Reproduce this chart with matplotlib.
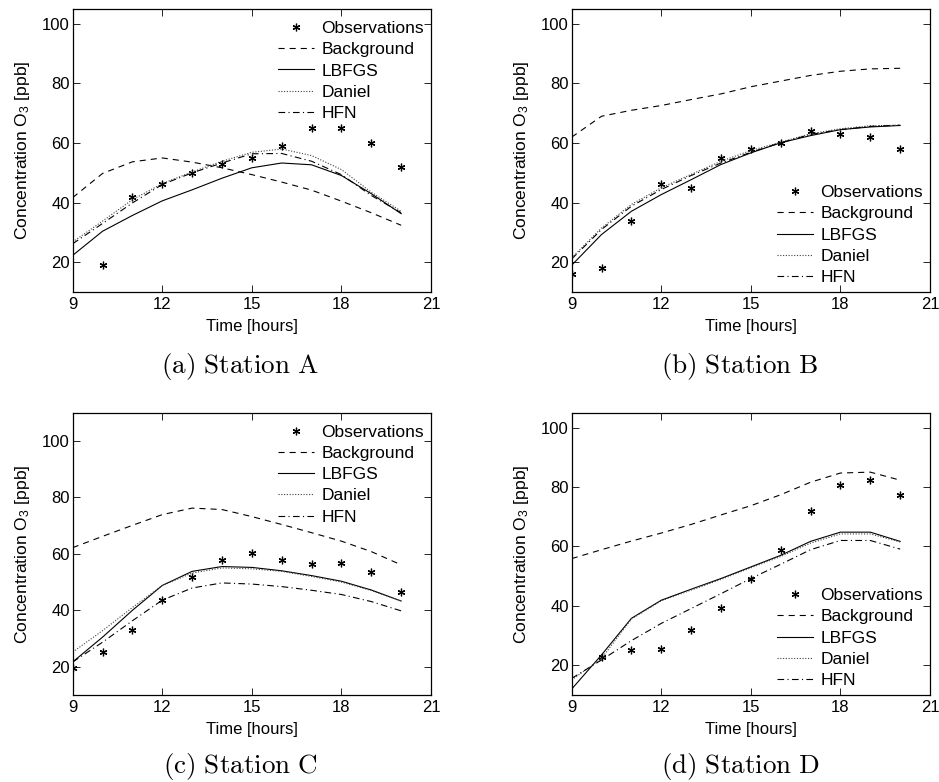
import numpy as np
import matplotlib
matplotlib.use('Agg')
import matplotlib.pyplot as plt

plt.rcParams['font.family'] = ['Liberation Sans', 'DejaVu Sans']
plt.rcParams['mathtext.fontset'] = 'custom'
plt.rcParams['mathtext.rm'] = 'Liberation Sans'
plt.rcParams['mathtext.it'] = 'Liberation Sans:italic'

hours = np.arange(9, 21)
obs_hours_a = np.arange(10, 21)
obs_hours_d = np.arange(10, 21)

# station A
obs_a = [19.0, 42.0, 46.1, 50.1, 53.0, 55.1, 58.9, 65.0, 65.0, 60.0, 52.0]
bg_a = [41.7, 49.8, 53.7, 55.0, 53.6, 51.7, 49.4, 46.9, 44.2, 40.5, 36.6, 32.4]
lbfgs_a = [22.3, 30.4, 35.7, 40.6, 44.3, 48.2, 51.7, 53.3, 52.7, 49.1, 43.0, 36.3]
daniel_a = [26.8, 33.8, 41.0, 46.4, 50.3, 53.9, 56.9, 58.0, 55.8, 51.1, 43.5, 37.1]
hfn_a = [26.2, 33.0, 39.9, 46.1, 50.0, 53.3, 56.4, 56.5, 53.9, 49.4, 42.4, 36.6]

# station B
obs_b = [16.0, 18.0, 34.0, 46.1, 45.0, 55.0, 58.0, 60.1, 64.0, 63.1, 62.1, 58.0]
bg_b = [62.0, 69.0, 71.0, 72.6, 74.6, 76.5, 78.9, 80.8, 82.7, 84.1, 84.9, 85.1]
lbfgs_b = [19.0, 29.3, 37.1, 42.7, 47.7, 52.8, 56.7, 60.1, 62.5, 64.5, 65.4, 65.9]
daniel_b = [21.5, 31.5, 39.4, 45.0, 49.5, 53.9, 57.5, 60.3, 63.1, 64.8, 65.8, 66.0]
hfn_b = [21.1, 31.0, 38.8, 44.4, 49.1, 53.3, 56.9, 60.1, 62.9, 64.5, 65.6, 66.0]

# station C
obs_c = [19.4, 25.4, 33.2, 43.6, 51.8, 57.8, 60.2, 57.7, 56.3, 56.9, 53.5, 46.4]
bg_c = [62.2, 66.2, 70.1, 73.9, 76.2, 75.7, 73.2, 70.4, 67.5, 64.5, 60.8, 56.1]
lbfgs_c = [21.7, 30.5, 40.0, 48.8, 53.8, 55.5, 55.2, 54.0, 52.3, 50.3, 47.2, 43.3]
daniel_c = [25.2, 32.8, 41.0, 48.8, 53.2, 55.0, 54.7, 53.8, 52.0, 50.0, 47.0, 43.3]
hfn_c = [21.7, 28.7, 36.3, 43.6, 47.9, 49.7, 49.3, 48.4, 47.1, 45.6, 43.1, 39.8]

# station D
obs_d = [22.7, 25.1, 25.4, 31.8, 39.4, 49.2, 58.7, 71.8, 80.7, 82.3, 77.3]
bg_d = [55.9, 58.9, 61.8, 64.5, 67.4, 70.6, 73.7, 77.4, 81.6, 84.7, 85.0, 82.3]
lbfgs_d = [12.0, 23.5, 35.8, 41.9, 45.6, 49.2, 53.1, 57.0, 61.7, 64.8, 64.8, 61.7]
daniel_d = [15.1, 22.3, 35.6, 41.7, 45.3, 48.9, 52.8, 56.6, 61.1, 64.2, 64.2, 61.5]
hfn_d = [15.6, 21.8, 28.3, 34.1, 39.1, 44.1, 49.2, 54.0, 58.9, 62.0, 62.0, 59.1]

panels = [
    ('(a)\\ Station\\ A', obs_hours_a, obs_a, bg_a, lbfgs_a, daniel_a, hfn_a, (10, 105), 'upper right'),
    ('(b)\\ Station\\ B', hours, obs_b, bg_b, lbfgs_b, daniel_b, hfn_b, (10, 105), 'lower right'),
    ('(c)\\ Station\\ C', hours, obs_c, bg_c, lbfgs_c, daniel_c, hfn_c, (10, 110), 'upper right'),
    ('(d)\\ Station\\ D', obs_hours_d, obs_d, bg_d, lbfgs_d, daniel_d, hfn_d, (10, 105), 'lower right'),
]

W, H = 939, 782
fig = plt.figure(figsize=(W / 100, H / 100), dpi=100)

# axes boxes in pixels: left, top, right, bottom
boxes = [(72.7, 9, 431, 292), (571.7, 9, 930, 292),
         (72.7, 412.7, 431, 695), (571.7, 412.7, 930, 695)]
caption_pos = [(240, 367), (740, 367), (240, 767), (740, 767)]

lw = 0.8
for (name, oh, obs, bg, lb, dn, hf, ylim, loc), box, cp in zip(panels, boxes, caption_pos):
    l, t, r, b = box
    ax = fig.add_axes([l / W, 1 - b / H, (r - l) / W, (b - t) / H])
    ax.plot(oh, obs, linestyle='none', marker=(6, 2, 0), color='black', markersize=5.5,
            markeredgewidth=0.9, label='Observations')
    ax.plot(hours, bg, color='black', lw=lw, linestyle=(0, (5.5, 4.5)), label='Background')
    ax.plot(hours, lb, color='black', lw=lw, linestyle='-', label='LBFGS')
    ax.plot(hours, dn, color='0.25', lw=lw, linestyle=(0, (1, 1.5)), label='Daniel')
    ax.plot(hours, hf, color='black', lw=lw, linestyle=(0, (6, 3, 1, 3)), label='HFN')

    ax.set_xlim(9, 21)
    ax.set_ylim(*ylim)
    ax.set_xticks([9, 12, 15, 18, 21])
    ax.set_yticks([20, 40, 60, 80, 100])
    ax.tick_params(direction='in', top=True, right=True, labelsize=12,
                   length=5, width=0.6)
    ax.tick_params(axis='y', pad=2)
    for s in ax.spines.values():
        s.set_linewidth(0.9)
    ax.set_xlabel('Time [hours]', fontsize=12, labelpad=5)
    ax.set_ylabel('Concentration O$_\\mathrm{3}$ [ppb]', fontsize=12.6, labelpad=7)

    if loc == 'upper right':
        anchor = (1.0, 1.0 - 5 / 283)
    else:
        anchor = (1.0, 0.0)
    ax.legend(loc=loc, bbox_to_anchor=anchor, frameon=False, fontsize=12.5,
              handlelength=2.1, handletextpad=0.4, labelspacing=0.35,
              borderaxespad=0.1, borderpad=0.3)

    fig.text(cp[0] / W, 1 - cp[1] / H, '$\\mathrm{' + name + '}$', ha='center',
             va='center', fontsize=19.5, math_fontfamily='cm')

fig.savefig('out.png', dpi=100)
